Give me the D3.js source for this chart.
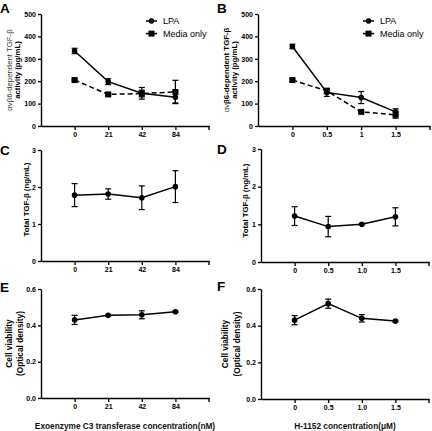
<!DOCTYPE html>
<html><head><meta charset="utf-8">
<script src="https://cdn.jsdelivr.net/npm/d3@7"></script>
<style>
html,body{margin:0;padding:0;background:#fff;}
svg{display:block;font-family:"Liberation Sans",Arial,sans-serif;}
</style></head>
<body>
<svg id="c" width="432" height="431"></svg>
<script>
// ---- data ----
const catsLeft = ["0","21","42","84"];
const catsB = ["0","0.5","1","1.5"];
const catsDF = ["0","0.5","1.0","1.5"];

const aLPA = [335,198,146,128];
const aLPAerr = [12,13,26,25];
const aMedia = [205,141,145,152];
const aMediaErr = [5,5,15,52];

const bLPA = [355,150,127,63];
const bLPAerr = [10,18,27,14];
const bMedia = [205,157,63,50];
const bMediaErr = [5,10,5,15];

const cTotal = [1.78,1.81,1.71,2.01];
const cErr = [0.31,0.14,0.32,0.43];
const dTotal = [1.22,0.94,1.0,1.2];
const dErr = [0.25,0.27,0.02,0.24];

const eVia = [0.43,0.455,0.458,0.475];
const eErr = [0.025,0.004,0.022,0.004];
const fVia = [0.43,0.52,0.44,0.425];
const fErr = [0.025,0.025,0.02,0.004];

const ticksAB = [0,100,200,300,400,500];
const ticksCD = [0,1,2,3];
const ticksEF = [0,0.2,0.4,0.6];
const legendLabels = ["LPA","Media only"];

// ---- drawing ----
const svg = d3.select("#c");

function panel(o){
  const g = svg.append("g");
  const x = d3.scalePoint().domain(o.cats).range([o.x0,o.x1]).padding(1);
  const y = d3.scaleLinear().domain([0,o.ymax]).range([o.yb,o.yt]);
  // y axis
  const ya = g.append("g").attr("transform",`translate(${o.x0},0)`)
    .call(d3.axisLeft(y).tickValues(o.yticks).tickSize(3).tickSizeOuter(0).tickFormat(o.fmt));
  // x axis
  const xa = g.append("g").attr("transform",`translate(0,${o.yb})`)
    .call(d3.axisBottom(x).tickSize(4).tickSizeOuter(0).tickPadding(2));
  xa.append("line").attr("x1",o.x1).attr("x2",o.x1).attr("y1",0).attr("y2",4).attr("stroke","#000").attr("stroke-width",1.4);
  [ya,xa].forEach(a=>{
    a.attr("color","#000");
    a.select(".domain").attr("stroke","#000").attr("stroke-width",1.4);
    a.selectAll(".tick line").attr("stroke","#000").attr("stroke-width",1.3);
    a.selectAll("text").attr("font-family","Liberation Sans, Arial, sans-serif")
      .attr("font-size",7).attr("font-weight","bold").attr("fill","#000");
  });
  ya.selectAll("text").attr("dx",1);
  // series
  o.series.forEach(s=>{
    const pts = s.vals.map((v,i)=>({c:o.cats[i],v,e:s.err[i]}));
    g.append("path").datum(pts)
      .attr("d",d3.line().x(d=>x(d.c)).y(d=>y(d.v)))
      .attr("fill","none").attr("stroke","#000").attr("stroke-width",1.5)
      .attr("stroke-dasharray",s.dash?"5,3":null);
    const eb = g.append("g");
    pts.forEach(d=>{
      eb.append("line").attr("x1",x(d.c)).attr("x2",x(d.c)).attr("y1",y(d.v-d.e)).attr("y2",y(d.v+d.e)).attr("stroke","#000").attr("stroke-width",1.2);
      [d.v-d.e,d.v+d.e].forEach(t=>eb.append("line").attr("x1",x(d.c)-3).attr("x2",x(d.c)+3).attr("y1",y(t)).attr("y2",y(t)).attr("stroke","#000").attr("stroke-width",1.2));
    });
    if(s.shape==="square"){
      g.selectAll(null).data(pts).enter().append("rect")
        .attr("x",d=>x(d.c)-3).attr("y",d=>y(d.v)-3).attr("width",6).attr("height",6).attr("fill","#000");
    } else {
      g.selectAll(null).data(pts).enter().append("circle")
        .attr("cx",d=>x(d.c)).attr("cy",d=>y(d.v)).attr("r",2.8).attr("fill","#000");
    }
  });
  // letter
  g.append("text").attr("x",o.lx).attr("y",o.ly).text(o.letter)
    .attr("font-size",13.5).attr("font-weight","bold");
  // y title
  const cy = (o.yt+o.yb)/2 + (o.tdy||0);
  o.ytitle.forEach((line,i)=>{
    const t = g.append("text").attr("transform",`translate(${o.tx[i]},${cy}) rotate(-90)`)
      .attr("text-anchor","middle").attr("font-size",o.tfs);
    line.forEach(p=>t.append("tspan").text(p.t).attr("font-weight",p.b?"bold":"normal").attr("fill",p.b?"#000":"#333"));
  });
  if(o.legend){
    o.series.forEach((s,i)=>{
      const ly = o.legend.y + i*12.6;
      g.append("line").attr("x1",o.legend.x).attr("x2",o.legend.x+11).attr("y1",ly).attr("y2",ly).attr("stroke","#000").attr("stroke-width",1.5);
      if(s.shape==="square") g.append("rect").attr("x",o.legend.x+2.5).attr("y",ly-3).attr("width",6).attr("height",6);
      else g.append("circle").attr("cx",o.legend.x+5.5).attr("cy",ly).attr("r",2.8);
      g.append("text").attr("x",o.legend.x+17).attr("y",ly+3.3).attr("font-size",9).text(legendLabels[i]);
    });
  }
  if(o.xtitle){
    g.append("text").attr("x",(o.x0+o.x1)/2).attr("y",429).attr("text-anchor","middle")
      .attr("font-size",8.3).attr("font-weight","bold").attr("fill","#111").text(o.xtitle);
  }
}

const fmt0 = d3.format("d"), fmt1 = d3.format(".1f");
const abTitleA = [[{t:"\u03b1v\u03b26-dependent TGF-\u03b2",b:false}],[{t:"activity (pg/mL)",b:true}]];
const abTitleB = [[{t:"\u03b1v",b:false},{t:"\u03b26-dependent TGF-\u03b2",b:true}],[{t:"activity (pg/mL)",b:true}]];
const cdTitle = [[{t:"Total TGF-\u03b2 (ng/mL)",b:true}]];
const efTitle = [[{t:"Cell viability",b:true}],[{t:"(Optical density)",b:true}]];

panel({cats:catsLeft,x0:41,x1:209,yt:14,yb:126,ymax:500,yticks:ticksAB,fmt:fmt0,letter:"A",lx:0,ly:13,
  ytitle:abTitleA,tx:[12,20],tfs:7.8,
  series:[{vals:aLPA,err:aLPAerr,shape:"circle"},{vals:aMedia,err:aMediaErr,shape:"square",dash:true}],
  legend:{x:146,y:21}});
panel({cats:catsB,x0:258,x1:430,yt:14,yb:126,ymax:500,yticks:ticksAB,fmt:fmt0,letter:"B",lx:217,ly:13,
  ytitle:abTitleB,tx:[229,237],tfs:7.8,
  series:[{vals:bLPA,err:bLPAerr,shape:"circle"},{vals:bMedia,err:bMediaErr,shape:"square",dash:true}],
  legend:{x:363,y:21}});
panel({cats:catsLeft,x0:41,x1:209,yt:150,yb:261,ymax:3,yticks:ticksCD,fmt:fmt0,letter:"C",lx:0,ly:155,
  ytitle:cdTitle,tx:[29],tfs:7.8,tdy:-6,
  series:[{vals:cTotal,err:cErr,shape:"circle"}]});
panel({cats:catsDF,x0:261,x1:429,yt:149,yb:262,ymax:3,yticks:ticksCD,fmt:fmt0,letter:"D",lx:217,ly:154,
  ytitle:cdTitle,tx:[248],tfs:7.8,tdy:-5,
  series:[{vals:dTotal,err:dErr,shape:"circle"}]});
panel({cats:catsLeft,x0:41,x1:209,yt:289,yb:398,ymax:0.6,yticks:ticksEF,fmt:fmt1,letter:"E",lx:0,ly:292,
  ytitle:efTitle,tx:[12,23],tfs:8.3,
  series:[{vals:eVia,err:eErr,shape:"circle"}],xtitle:"Exoenzyme C3 transferase concentration(nM)"});
panel({cats:catsDF,x0:261,x1:429,yt:289,yb:399,ymax:0.6,yticks:ticksEF,fmt:fmt1,letter:"F",lx:217,ly:291,
  ytitle:efTitle,tx:[228,240],tfs:8.3,
  series:[{vals:fVia,err:fErr,shape:"circle"}],xtitle:"H-1152 concentration(\u03bcM)"});
</script>
</body></html>
